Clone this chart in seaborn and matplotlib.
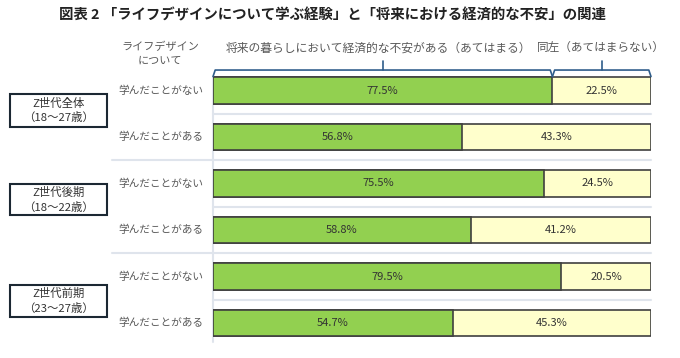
import pandas as pd
import matplotlib.pyplot as plt
import seaborn as sns
from matplotlib.patches import Rectangle

# data
groups = ['Z世代全体\n（18～27歳）', 'Z世代後期\n（18～22歳）', 'Z世代前期\n（23～27歳）']
row_labels = ['学んだことがない', '学んだことがある'] * 3
anxious = [77.5, 56.8, 75.5, 58.8, 79.5, 54.7]      # あてはまる
not_anxious = [22.5, 43.3, 24.5, 41.2, 20.5, 45.3]  # あてはまらない

GREEN = '#92d050'
YELLOW = '#ffffcc'
EDGE = '#3f3f3f'
SEP = '#dfe4ec'
BLUE = '#2e5c8a'
TXT = '#595959'

sns.set_theme(style='white')
plt.rcParams['font.family'] = ['Noto Sans CJK JP', 'DejaVu Sans']

df = pd.DataFrame({
    'row': [f'r{i}' for i in range(len(anxious))],
    'anxious': anxious,
    'not_anxious': not_anxious,
})
df['total'] = df['anxious'] + df['not_anxious']

W, H = 680, 358
fig = plt.figure(figsize=(W / 100, H / 100), dpi=100)

# axes placed so that 0-100% spans x=213..651 px and rows are 46.5 px apart
x0, x1 = 213, 651
y_top, y_bot = 67.25, 346.25
ax = fig.add_axes([x0 / W, 1 - y_bot / H, (x1 - x0) / W, (y_bot - y_top) / H])

bar_h = 0.58
sns.barplot(data=df, x='total', y='row', color=YELLOW, edgecolor=EDGE,
            linewidth=1.2, width=bar_h, errorbar=None, orient='h', ax=ax,
            saturation=1)
sns.barplot(data=df, x='anxious', y='row', color=GREEN, edgecolor=EDGE,
            linewidth=1.2, width=bar_h, errorbar=None, orient='h', ax=ax,
            saturation=1)

ax.set_xlim(0, 100)
ax.set_ylim(5.5, -0.5)
ax.set_xlabel('')
ax.set_ylabel('')
ax.set_xticks([])
ax.set_yticks([])
for s in ax.spines.values():
    s.set_visible(False)

# separator lines
x_far = (112 - x0) / (x1 - x0) * 100
for i in range(5):
    start = x_far if i % 2 == 1 else 0
    ax.plot([start, 100], [i + 0.5, i + 0.5], color=SEP, lw=1.5,
            clip_on=False, zorder=0)
ax.plot([0, 0], [-0.29, 5.4], color=SEP, lw=1.5, clip_on=False, zorder=0)

# percent labels
for i, (a, b) in enumerate(zip(anxious, not_anxious)):
    ax.text(a / 2, i, f'{a:.1f}%', ha='center', va='center', fontsize=8, color='#333333')
    ax.text(a + (100 - a) / 2, i, f'{b:.1f}%', ha='center', va='center', fontsize=8, color='#333333')

# row labels
x_lab = (118 - x0) / (x1 - x0) * 100
for i, lab in enumerate(row_labels):
    ax.text(x_lab, i, lab, ha='left', va='center', fontsize=7.7, color=TXT, clip_on=False)

# brackets over the first bar
def bracket(xa, xb):
    yb, yl, yt = -0.30, -0.44, -0.63
    ax.plot([xa, xa + 0.5, xb - 0.5, xb], [yb, yl, yl, yb], color=BLUE, lw=1.2,
            clip_on=False, solid_joinstyle='round')
    xm = (xa + xb) / 2
    ax.plot([xm, xm], [yl, yt], color=BLUE, lw=1.2, clip_on=False)

bracket(0, anxious[0])
bracket(anxious[0], 100)

# group boxes
boxes = [(94, 127), (184, 215), (285, 317)]
for g, (ya, yb) in zip(groups, boxes):
    fig.add_artist(Rectangle((10 / W, 1 - yb / H), 97 / W, (yb - ya) / H,
                             transform=fig.transFigure, fill=False,
                             edgecolor='#1c2833', lw=1.5))
    fig.text(58.5 / W, 1 - (ya + yb) / 2 / H, g, ha='center', va='center',
             fontsize=8.2, color='#333333', linespacing=1.4)

# headers
fig.text(160 / W, 1 - 54 / H, 'ライフデザイン\nについて', ha='center', va='center',
         fontsize=8.0, color=TXT, linespacing=1.4)
fig.text(378 / W, 1 - 48 / H, '将来の暮らしにおいて経済的な不安がある（あてはまる）',
         ha='center', va='center', fontsize=8.5, color=TXT)
fig.text(601 / W, 1 - 48 / H, '同左（あてはまらない）',
         ha='center', va='center', fontsize=8.4, color=TXT)

fig.text(332 / W, 1 - 15 / H,
         '図表 2 「ライフデザインについて学ぶ経験」と「将来における経済的な不安」の関連',
         ha='center', va='center', fontsize=10.4, fontweight='bold', color='#222222')

fig.savefig('out.png', dpi=100)
